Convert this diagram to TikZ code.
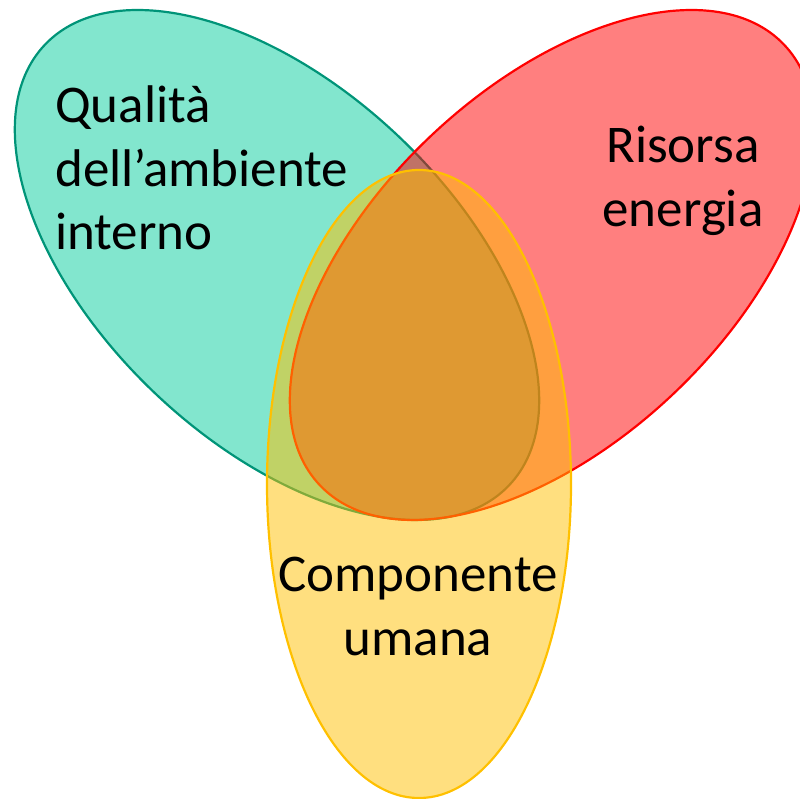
\documentclass[tikz,border=0pt]{standalone}
\usepackage{fontspec}
\setmainfont{Carlito}
\definecolor{greenfill}{RGB}{130,230,206}
\definecolor{greenline}{RGB}{0,148,120}
\definecolor{redbase}{RGB}{255,0,0}
\definecolor{yellowbase}{RGB}{255,192,0}
\tikzset{
  setq/.style={line width=2.2pt},
  lbl/.style={font=\fontsize{53}{63}\selectfont, inner sep=0pt, text=black},
}
\begin{document}
\begin{tikzpicture}[x=1pt,y=1pt]
\useasboundingbox (0,0) rectangle (800,798);
\clip (0,0) rectangle (800,798);
% green set
\draw[setq, draw=greenline, fill=greenfill] (277,533) ellipse[x radius=320, y radius=177, rotate=-43.5];
% red set
\draw[setq, draw=redbase, fill=redbase, fill opacity=0.5] (552,533) ellipse[x radius=320, y radius=177, rotate=43.5];
% yellow set
\draw[setq, draw=yellowbase, fill=yellowbase, fill opacity=0.5] (419,314) ellipse[x radius=152, y radius=314];
% labels
\node[lbl, anchor=base west] (q1) at (55,675) {Qualità};
\node[lbl, anchor=base west] (q2) at (55,611) {dell’ambiente};
\node[lbl, anchor=base west] (q3) at (55,548) {interno};
\node[lbl, anchor=base] (r1) at (683,635) {Risorsa};
\node[lbl, anchor=base] (r2) at (683,571) {energia};
\node[lbl, anchor=base] (c1) at (418,206) {Componente};
\node[lbl, anchor=base] (c2) at (418,143) {umana};
\end{tikzpicture}
\end{document}
